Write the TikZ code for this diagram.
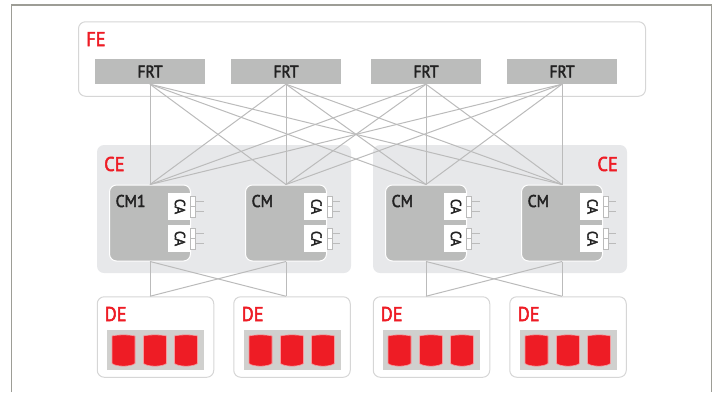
\documentclass[tikz,border=0pt]{standalone}
\usepackage{fontspec}
\setmainfont{PT Sans}[FakeBold=2.5, FakeStretch=0.92]

\definecolor{fjred}{HTML}{EE1C25}
\definecolor{fjgrey}{HTML}{BBBCBB}
\definecolor{fjpale}{HTML}{E7E8EA}
\definecolor{fjedge}{HTML}{D6D6D6}
\definecolor{fjwire}{HTML}{BBBBBB}
\definecolor{fjtray}{HTML}{D0D0CE}
\definecolor{fjtext}{HTML}{222222}
\definecolor{fjframe}{HTML}{9D9D96}

\tikzset{
	x=1pt, y=-1pt,
	tag/.style={anchor=base west, inner sep=0, text=fjred, font=\fontsize{20}{22}\selectfont},
	cmtitle/.style={anchor=base west, inner sep=0, text=fjtext, font=\fontsize{17}{19}\selectfont},
	outerbox/.style={draw=fjedge, fill=white, line width=1pt, rounded corners=7pt, minimum width=#1, inner sep=0},
	frtbox/.style={fill=fjgrey, text=fjtext, minimum width=110pt, minimum height=25pt, inner sep=0, font=\fontsize{17}{19}\selectfont},
	cebox/.style={fill=fjpale, rounded corners=7pt, minimum width=254pt, minimum height=128pt, inner sep=0},
	cmbox/.style={draw=white, fill=fjgrey, line width=1pt, rounded corners=7pt, minimum width=81pt, minimum height=76pt, inner sep=0},
	cabox/.style={fill=white, text=fjtext, minimum width=22.5pt, minimum height=27pt, inner sep=0},
	portbox/.style={draw=fjwire, fill=white, line width=0.6pt, minimum width=5pt, minimum height=10.5pt, inner sep=0},
	traybox/.style={fill=fjtray, minimum width=97pt, minimum height=40pt, inner sep=0},
	wire/.style={draw=fjwire, line width=1pt},
	pics/adapter/.style={code={
		\node[cabox] (-a) at (0,0) {\hspace{2pt}\rotatebox{-90}{\fontsize{14.5}{16}\selectfont CA}};
		\node[portbox] (-p) at (14,-5.2) {};
		\node[portbox] (-q) at (14,5.2) {};
		\draw[wire, line width=0.7pt] (-p.east) -- ++(8,0);
		\draw[wire, line width=0.7pt] (-q.east) -- ++(8,0);
	}},
	pics/disk/.style={code={
		\filldraw[fill=fjred, draw=white!55!fjred, line width=0.6pt]
			(-11.5,-14.5) .. controls (-6,-16) and (6,-16) .. (11.5,-14.5)
			-- (11.5,13) .. controls (7,16.5) and (-7,16.5) .. (-11.5,13) -- cycle;
	}},
}

\begin{document}
\begin{tikzpicture}
	\useasboundingbox (0,0) rectangle (719,392);

	%outer frame
	\draw[fjframe, line width=1.4pt] (11.5,392) -- (11.5,5) -- (711.5,5) -- (711.5,392);

	%front end
	\node[outerbox=567pt, minimum height=74.5pt] (fe) at (362,59) {};
	\node[tag] (felabel) at (86,46) {FE};
	\node[frtbox] (frt1) at (150,71.5) {FRT};
	\node[frtbox] (frt2) at (286,71.5) {FRT};
	\node[frtbox] (frt3) at (426,71.5) {FRT};
	\node[frtbox] (frt4) at (562,71.5) {FRT};

	%controller enclosures
	\node[cebox] (ce1) at (224,209) {};
	\node[cebox] (ce2) at (500,209) {};
	\node[tag] (ce1label) at (104,171) {CE};
	\node[tag, anchor=base east] (ce2label) at (618,171) {CE};

	%controller modules
	\node[cmbox] (cm1) at (150,223) {};
	\node[cmbox] (cm2) at (286,223) {};
	\node[cmbox] (cm3) at (426,223) {};
	\node[cmbox] (cm4) at (562,223) {};
	\node[cmtitle] (cm1label) at (115.5,207) {CM1};
	\node[cmtitle] (cm2label) at (251.5,207) {CM};
	\node[cmtitle] (cm3label) at (391.5,207) {CM};
	\node[cmtitle] (cm4label) at (527.5,207) {CM};

	%front end wiring
	\draw[wire] (frt1.south) -- (cm1.north);
	\draw[wire] (frt1.south) -- (cm2.north);
	\draw[wire] (frt1.south) -- (cm3.north);
	\draw[wire] (frt1.south) -- (cm4.north);
	\draw[wire] (frt2.south) -- (cm1.north);
	\draw[wire] (frt2.south) -- (cm2.north);
	\draw[wire] (frt2.south) -- (cm3.north);
	\draw[wire] (frt2.south) -- (cm4.north);
	\draw[wire] (frt3.south) -- (cm1.north);
	\draw[wire] (frt3.south) -- (cm2.north);
	\draw[wire] (frt3.south) -- (cm3.north);
	\draw[wire] (frt3.south) -- (cm4.north);
	\draw[wire] (frt4.south) -- (cm1.north);
	\draw[wire] (frt4.south) -- (cm2.north);
	\draw[wire] (frt4.south) -- (cm3.north);
	\draw[wire] (frt4.south) -- (cm4.north);

	%channel adapters
	\pic (ca1) at (179,206.5) {adapter};
	\pic (ca2) at (179,238.5) {adapter};
	\pic (ca3) at (315.5,206.5) {adapter};
	\pic (ca4) at (315.5,238.5) {adapter};
	\pic (ca5) at (455,206.5) {adapter};
	\pic (ca6) at (455,238.5) {adapter};
	\pic (ca7) at (591.5,206.5) {adapter};
	\pic (ca8) at (591.5,238.5) {adapter};

	%drive enclosures
	\node[outerbox=116.5pt, minimum height=80.5pt] (de1) at (155.5,337) {};
	\node[outerbox=116.5pt, minimum height=80.5pt] (de2) at (292,337) {};
	\node[outerbox=116.5pt, minimum height=80.5pt] (de3) at (431.5,337) {};
	\node[outerbox=116.5pt, minimum height=80.5pt] (de4) at (568,337) {};
	\node[tag] (de1label) at (104.5,321) {DE};
	\node[tag] (de2label) at (241.5,321) {DE};
	\node[tag] (de3label) at (380.5,321) {DE};
	\node[tag] (de4label) at (517.5,321) {DE};
	\node[traybox] (tray1) at (155.5,350) {};
	\node[traybox] (tray2) at (292.5,350) {};
	\node[traybox] (tray3) at (431.5,350) {};
	\node[traybox] (tray4) at (568.5,350) {};

	%disks
	\pic at (123.5,350.5) {disk};
	\pic at (155,350.5) {disk};
	\pic at (186,350.5) {disk};
	\pic at (260.5,350.5) {disk};
	\pic at (292,350.5) {disk};
	\pic at (323,350.5) {disk};
	\pic at (399.5,350.5) {disk};
	\pic at (431,350.5) {disk};
	\pic at (462,350.5) {disk};
	\pic at (536.5,350.5) {disk};
	\pic at (568,350.5) {disk};
	\pic at (599,350.5) {disk};

	%back end wiring
	\draw[wire] (cm1.south) -- (cm1.south |- de1.north);
	\draw[wire] (cm1.south) -- (cm2.south |- de2.north);
	\draw[wire] (cm2.south) -- (cm2.south |- de2.north);
	\draw[wire] (cm2.south) -- (cm1.south |- de1.north);
	\draw[wire] (cm3.south) -- (cm3.south |- de3.north);
	\draw[wire] (cm3.south) -- (cm4.south |- de4.north);
	\draw[wire] (cm4.south) -- (cm4.south |- de4.north);
	\draw[wire] (cm4.south) -- (cm3.south |- de3.north);

\end{tikzpicture}
\end{document}
